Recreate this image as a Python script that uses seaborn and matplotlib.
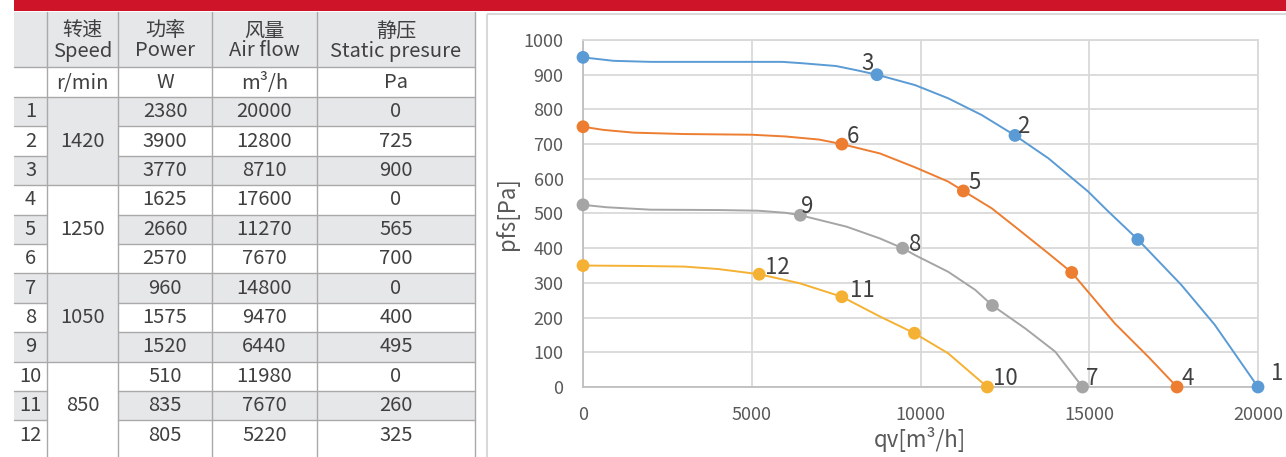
import pandas as pd
import seaborn as sns
from matplotlib import pyplot as plt
from matplotlib.patches import Rectangle

# table data
row_no = [str(i) for i in range(1, 13)]
speed_groups = ['1420', '1250', '1050', '850']
power = [2380, 3900, 3770, 1625, 2660, 2570, 960, 1575, 1520, 510, 835, 805]
airflow = [20000, 12800, 8710, 17600, 11270, 7670, 14800, 9470, 6440, 11980, 7670, 5220]
pressure = [0, 725, 900, 0, 565, 700, 0, 400, 495, 0, 260, 325]
header_cn = ['', '转速', '功率', '风量', '静压']
header_en = ['', 'Speed', 'Power', 'Air flow', 'Static presure']
units = ['', 'r/min', 'W', 'm³/h', 'Pa']

# chart markers
blue_x = [0, 8710, 12800, 16440, 20000]
blue_y = [950, 900, 725, 425, 0]
blue_lab = ['', '3', '2', '', '1']
orange_x = [0, 7670, 11270, 14480, 17600]
orange_y = [750, 700, 565, 330, 0]
orange_lab = ['', '6', '5', '', '4']
gray_x = [0, 6440, 9470, 12130, 14800]
gray_y = [525, 495, 400, 235, 0]
gray_lab = ['', '9', '8', '', '7']
yellow_x = [0, 5220, 7670, 9820, 11980]
yellow_y = [350, 325, 260, 155, 0]
yellow_lab = ['', '12', '11', '', '10']

# smoothed curves
blue_cx = [0, 900, 2000, 4000, 5900, 6500, 7500, 8100, 8710, 9840, 10820, 11810, 12800, 13790, 14970, 15520, 16440, 17730, 18720, 20000]
blue_cy = [950, 940, 937, 937, 937, 933, 925, 913, 900, 870, 832, 784, 725, 659, 563, 510, 425, 294, 179, 0]
orange_cx = [0, 600, 1500, 3000, 5000, 6000, 7000, 7670, 8800, 9840, 10820, 11270, 12110, 12800, 13790, 14480, 15760, 16750, 17600]
orange_cy = [750, 741, 733, 729, 727, 722, 713, 700, 673, 633, 592, 565, 515, 462, 385, 330, 183, 87, 0]
gray_cx = [0, 700, 2000, 4000, 5200, 6000, 6440, 7810, 8800, 9470, 9840, 10820, 11620, 12130, 13100, 13990, 14800]
gray_cy = [525, 518, 511, 510, 508, 502, 495, 462, 428, 400, 380, 332, 280, 235, 169, 102, 0]
yellow_cx = [0, 1500, 3000, 4000, 5220, 6420, 7670, 8800, 9820, 10820, 11980]
yellow_cy = [350, 349, 347, 340, 325, 299, 260, 203, 155, 97, 0]

series = ['1420', '1250', '1050', '850']
colors = ['#5b9bd5', '#ed7d31', '#a5a5a5', '#f5b133']

sns.set_theme(style='white')
plt.rcParams['font.family'] = ['Noto Sans CJK SC', 'DejaVu Sans']

fig = plt.figure(figsize=(12.86, 4.57), dpi=100)
bg = fig.add_axes([0, 0, 1, 1])
bg.set_xlim(0, 1286)
bg.set_ylim(457, 0)
bg.axis('off')

# red band and chart frame
bg.add_patch(Rectangle((14, 0), 1272, 10.5, color='#cd1429', lw=0))
bg.add_patch(Rectangle((487, 14), 820, 460, fill=False, ec='#d9d9d9', lw=1.5))

# ---- table ----
shade = '#e6e7e9'
line_c = '#a9a9a9'
txt_c = '#404040'
cols = [14, 47, 118, 212, 317, 475]
top, head_b, unit_b = 12, 67, 97
rh = 29.4
fs_t = 14.5

bg.add_patch(Rectangle((cols[0], top), cols[-1] - cols[0], head_b - top, color=shade, lw=0))
for i in range(12):
    y0 = unit_b + i * rh
    if i % 2 == 0:
        for c in [0, 2, 3, 4]:
            bg.add_patch(Rectangle((cols[c], y0), cols[c + 1] - cols[c], rh, color=shade, lw=0))
for g in range(4):
    y0 = unit_b + g * 3 * rh
    if g % 2 == 0:
        bg.add_patch(Rectangle((cols[1], y0), cols[2] - cols[1], 3 * rh, color=shade, lw=0))
    bg.text((cols[1] + cols[2]) / 2, y0 + 1.5 * rh, speed_groups[g], ha='center', va='center',
            fontsize=fs_t, color=txt_c)

bottom = 457
for x in cols[1:]:
    bg.plot([x, x], [top, bottom], color=line_c, lw=1)
bg.plot([cols[0], cols[-1]], [head_b, head_b], color=line_c, lw=1)
bg.plot([cols[0], cols[-1]], [unit_b, unit_b], color=line_c, lw=1)
for i in range(1, 12):
    y = unit_b + i * rh
    if i % 3 == 0:
        bg.plot([cols[0], cols[-1]], [y, y], color=line_c, lw=1)
    else:
        bg.plot([cols[0], cols[1]], [y, y], color=line_c, lw=1)
        bg.plot([cols[2], cols[-1]], [y, y], color=line_c, lw=1)

for c in range(5):
    xc = (cols[c] + cols[c + 1]) / 2
    bg.text(xc, 31, header_cn[c], ha='center', va='center', fontsize=fs_t, color=txt_c)
    bg.text(xc, 51, header_en[c], ha='center', va='center', fontsize=fs_t, color=txt_c)
    bg.text(xc, 83, units[c], ha='center', va='center', fontsize=fs_t, color=txt_c)

for i in range(12):
    yc = unit_b + (i + 0.5) * rh
    vals = [row_no[i], None, power[i], airflow[i], pressure[i]]
    for c, v in enumerate(vals):
        if v is None:
            continue
        bg.text((cols[c] + cols[c + 1]) / 2, yc, str(v), ha='center', va='center',
                fontsize=fs_t, color=txt_c)

# ---- chart ----
curve_df = pd.concat([
    pd.DataFrame({'qv': blue_cx, 'pfs': blue_cy, 'speed': '1420'}),
    pd.DataFrame({'qv': orange_cx, 'pfs': orange_cy, 'speed': '1250'}),
    pd.DataFrame({'qv': gray_cx, 'pfs': gray_cy, 'speed': '1050'}),
    pd.DataFrame({'qv': yellow_cx, 'pfs': yellow_cy, 'speed': '850'}),
])
pts_df = pd.concat([
    pd.DataFrame({'qv': blue_x, 'pfs': blue_y, 'lab': blue_lab, 'speed': '1420'}),
    pd.DataFrame({'qv': orange_x, 'pfs': orange_y, 'lab': orange_lab, 'speed': '1250'}),
    pd.DataFrame({'qv': gray_x, 'pfs': gray_y, 'lab': gray_lab, 'speed': '1050'}),
    pd.DataFrame({'qv': yellow_x, 'pfs': yellow_y, 'lab': yellow_lab, 'speed': '850'}),
])
pal = dict(zip(series, colors))

ax = fig.add_axes([583 / 1286, 1 - 387 / 457, 675 / 1286, 347 / 457])
ax.set_facecolor('none')
sns.lineplot(data=curve_df, x='qv', y='pfs', hue='speed', hue_order=series, palette=pal,
             sort=False, estimator=None, legend=False, lw=1.4, ax=ax, zorder=2)
sns.scatterplot(data=pts_df, x='qv', y='pfs', hue='speed', hue_order=series, palette=pal,
                s=85, linewidth=0, legend=False, ax=ax, zorder=3, clip_on=False)

# label offsets in pixels (dx, dy, ha)
offs = {'3': (-3, 5, 'right'), '2': (2, 2, 'left'), '1': (13, 7, 'left'),
        '6': (5, 1, 'left'), '5': (5, 2, 'left'), '4': (4, 2, 'left'),
        '9': (1, 2, 'left'), '8': (6, -3, 'left'), '7': (3, 2, 'left'),
        '12': (6, 0, 'left'), '11': (8, 0, 'left'), '10': (6, 2, 'left')}
for _, r in pts_df.iterrows():
    if r['lab']:
        dx, dy, ha = offs[r['lab']]
        ax.annotate(r['lab'], (r['qv'], r['pfs']), xytext=(dx, dy), textcoords='offset pixels',
                    ha=ha, va='baseline', fontsize=16, color='#404040', annotation_clip=False)

ax.set_xlim(0, 20000)
ax.set_ylim(0, 1000)
ax.set_xticks([0, 5000, 10000, 15000, 20000])
ax.set_yticks(range(0, 1001, 100))
ax.grid(True, color='#d9d9d9', lw=1.3)
ax.set_axisbelow(True)
for s in ['top', 'right']:
    ax.spines[s].set_color('#d9d9d9')
    ax.spines[s].set_linewidth(1.3)
for s in ['left', 'bottom']:
    ax.spines[s].set_color('#bfbfbf')
    ax.spines[s].set_linewidth(1.3)
ax.tick_params(length=0, labelsize=13, labelcolor='#595959')
ax.tick_params(axis='y', pad=14)
ax.tick_params(axis='x', pad=14)
ax.set_xlabel('qv[m³/h]', fontsize=16, color='#595959', va='center')
ax.set_ylabel('pfs[Pa]', fontsize=16, color='#595959', va='center')
ax.xaxis.set_label_coords(337 / 675, -52 / 347)
ax.yaxis.set_label_coords(-76 / 675, 0.5)

fig.savefig('out.png', dpi=100)
